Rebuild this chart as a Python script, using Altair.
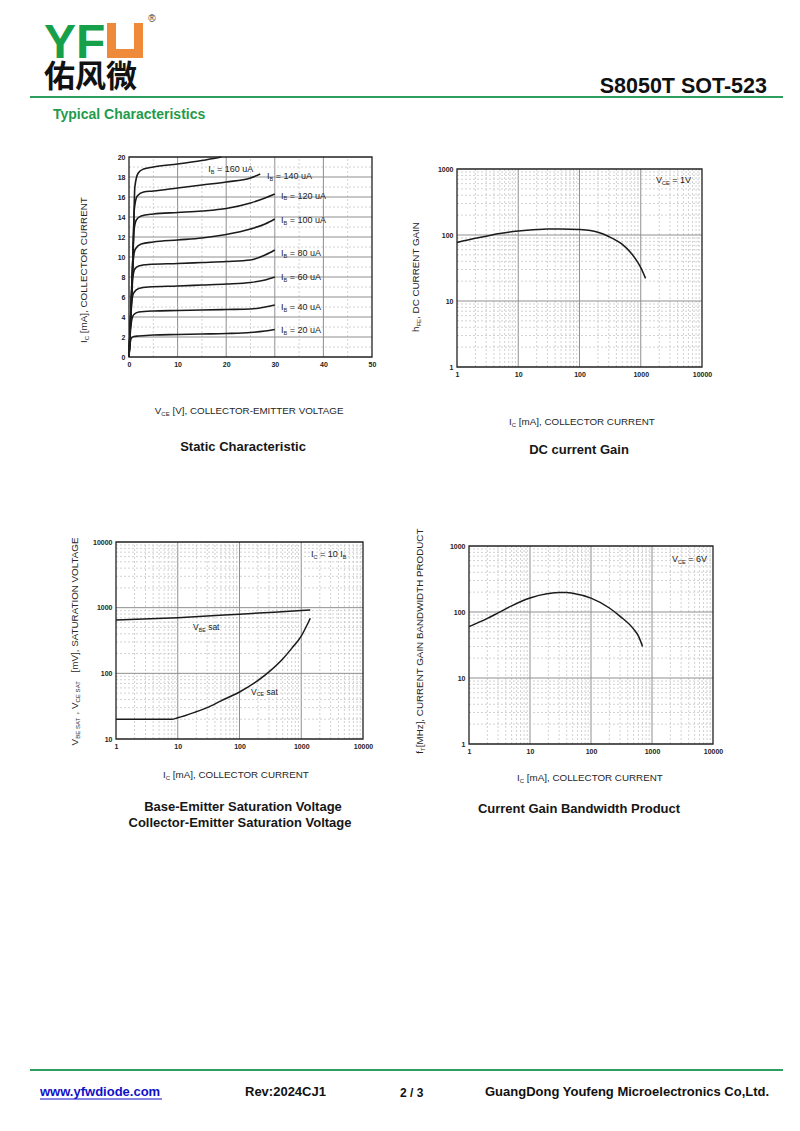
import altair as alt
import pandas as pd

FONT = "Liberation Sans"
CJK = "Noto Sans CJK SC"
INK = "#1b1b1b"
LOGO_GREEN = "#17a04a"
LINE_GREEN = "#2e9f5e"
TEXT_GREEN = "#1f9b4b"
ORANGE = "#ee8a3a"
LINK_BLUE = "#1010c8"
MAJOR = "#8f8f8f"
MINOR = "#c6c6c6"

W, H, M = 784, 1100, 8

# ---------------- Static characteristic: I_C [mA] vs V_CE [V] ----------------
IB_UA = [20, 40, 60, 80, 100, 120, 140, 160]
VCE_IB20 = [0, 0.2, 0.5, 1, 2, 5, 10, 15, 20, 25, 28, 30]
IC_IB20 = [0, 1.2, 1.9, 2.05, 2.1, 2.2, 2.25, 2.3, 2.35, 2.45, 2.6, 2.75]
VCE_IB40 = [0, 0.3, 0.6, 1, 2, 5, 10, 15, 20, 25, 28, 30]
IC_IB40 = [0, 2.6, 3.8, 4.25, 4.5, 4.6, 4.65, 4.7, 4.75, 4.8, 5.0, 5.2]
VCE_IB60 = [0, 0.4, 0.7, 1.1, 2, 4, 10, 15, 20, 25, 28, 30]
IC_IB60 = [0, 4.2, 6.0, 6.5, 6.85, 7.0, 7.1, 7.2, 7.3, 7.45, 7.7, 8.0]
VCE_IB80 = [0, 0.5, 0.8, 1.2, 2, 4, 10, 15, 20, 25, 28, 30]
IC_IB80 = [0, 5.5, 8.0, 8.8, 9.1, 9.25, 9.35, 9.45, 9.55, 9.7, 10.2, 10.7]
VCE_IB100 = [0, 0.6, 0.9, 1.3, 2.5, 5, 10, 15, 20, 25, 28, 30]
IC_IB100 = [0, 7.0, 9.8, 10.8, 11.3, 11.5, 11.7, 11.9, 12.25, 12.8, 13.3, 13.8]
VCE_IB120 = [0, 0.7, 1.0, 1.5, 2.5, 5, 10, 15, 20, 25, 28, 30]
IC_IB120 = [0, 8.5, 12.5, 13.7, 14.1, 14.3, 14.45, 14.6, 14.85, 15.4, 15.9, 16.3]
VCE_IB140 = [0, 0.8, 1.1, 1.7, 3, 5, 10, 15, 20, 25, 27]
IC_IB140 = [0, 10.0, 14.8, 16.1, 16.5, 16.6, 16.9, 17.2, 17.5, 17.9, 18.3]
VCE_IB160 = [0, 0.9, 1.2, 1.9, 3, 5, 10, 15, 19]
IC_IB160 = [0, 11.5, 17.0, 18.4, 18.8, 19.0, 19.3, 19.65, 20.0]
STATIC_VCE = [VCE_IB20, VCE_IB40, VCE_IB60, VCE_IB80, VCE_IB100, VCE_IB120, VCE_IB140, VCE_IB160]
STATIC_IC = [IC_IB20, IC_IB40, IC_IB60, IC_IB80, IC_IB100, IC_IB120, IC_IB140, IC_IB160]
IB_LABEL_X = [31.3, 31.3, 31.3, 31.3, 31.3, 31.3, 28.4, 16.3]
IB_LABEL_Y = [2.7, 5.0, 7.96, 10.4, 13.7, 16.15, 18.06, 18.8]

STATIC_X_TICKS = [0, 10, 20, 30, 40, 50]
STATIC_Y_TICKS = [0, 2, 4, 6, 8, 10, 12, 14, 16, 18, 20]
STATIC_GX_MAJOR = [10, 20, 30, 40]
STATIC_GX_MINOR = [5, 15, 25, 35, 45]
STATIC_GY_MAJOR = [2, 4, 6, 8, 10, 12, 14, 16, 18]
STATIC_GY_MINOR = [1, 3, 5, 7, 9, 11, 13, 15, 17, 19]

# ---------------- DC current gain: hFE vs I_C [mA] (V_CE = 1V) ----------------
IC_HFE = [1, 2, 3, 5, 10, 20, 30, 50, 100, 150, 200, 300, 500, 700, 900, 1000, 1200]
HFE = [77, 89, 96, 105, 115, 121, 123, 123, 121, 117, 110, 95, 72, 53, 38, 32, 22]

# ---------------- Saturation voltages [mV] vs I_C [mA] (I_C = 10 I_B) ----------------
IC_VBE = [1, 10, 100, 1000, 1400]
VBE_SAT = [650, 705, 795, 905, 922]
IC_VCE = [1, 8, 10, 20, 30, 50, 100, 200, 300, 500, 700, 1000, 1400]
VCE_SAT = [20, 20, 21, 26, 30, 38, 52, 78, 105, 165, 240, 370, 690]

# ---------------- Current gain bandwidth product f_T [MHz] vs I_C (V_CE = 6V) ----------------
IC_FT = [1, 2, 3, 5, 10, 20, 30, 40, 50, 100, 200, 300, 500, 600, 700]
FT = [60, 80, 97, 124, 163, 190, 198, 198, 193, 162, 115, 86, 55, 43, 30]

# ---------------- log grids / ticks ----------------
TICKS_1_10000 = [1, 10, 100, 1000, 10000]
TICKS_1_1000 = [1, 10, 100, 1000]
TICKS_10_10000 = [10, 100, 1000, 10000]
MAJOR_1_10000 = [10, 100, 1000]
MAJOR_1_1000 = [10, 100]
MAJOR_10_10000 = [100, 1000]
MINOR_1_10000 = [2, 3, 4, 5, 6, 7, 8, 9, 20, 30, 40, 50, 60, 70, 80, 90,
                 200, 300, 400, 500, 600, 700, 800, 900, 2000, 3000, 4000, 5000, 6000, 7000, 8000, 9000]
MINOR_1_1000 = [2, 3, 4, 5, 6, 7, 8, 9, 20, 30, 40, 50, 60, 70, 80, 90,
                200, 300, 400, 500, 600, 700, 800, 900]
MINOR_10_10000 = [20, 30, 40, 50, 60, 70, 80, 90, 200, 300, 400, 500, 600, 700, 800, 900,
                  2000, 3000, 4000, 5000, 6000, 7000, 8000, 9000]

# ---------------- text metrics helper (Arial / Liberation Sans regular) ----------------
REG = {' ': 278, ',': 278, '.': 278, '-': 333, '=': 584, '[': 278, ']': 278}
for _d in "0123456789":
    REG[_d] = 556
REG.update({'A': 667, 'B': 667, 'C': 722, 'D': 722, 'E': 667, 'F': 611, 'G': 778, 'H': 722,
            'I': 278, 'J': 500, 'K': 667, 'L': 556, 'M': 833, 'N': 722, 'O': 778, 'P': 667,
            'Q': 778, 'R': 722, 'S': 667, 'T': 611, 'U': 722, 'V': 667, 'W': 944, 'X': 667,
            'Y': 667, 'Z': 611, 'a': 556, 'b': 556, 'c': 500, 'd': 556, 'e': 556, 'f': 278,
            'g': 556, 'h': 556, 'i': 222, 'j': 222, 'k': 500, 'l': 222, 'm': 833, 'n': 556,
            'o': 556, 'p': 556, 'q': 556, 'r': 333, 's': 500, 't': 278, 'u': 556, 'v': 500,
            'w': 722, 'x': 500, 'y': 500, 'z': 500})
SUB = 0.62


def tw(s, size):
    return sum(REG.get(ch, 556) for ch in s) / 1000.0 * size


def pieces_of(segs, size):
    out, cur = [], 0.0
    for text, sub in segs:
        fs = size * SUB if sub else size
        lead = len(text) - len(text.lstrip(' '))
        out.append((text.strip(), fs, cur + tw(' ' * lead, fs), size * 0.33 if sub else 0.0))
        cur += tw(text, fs)
    return out, cur


ONE = alt.Data(values=[{"a": 0}])


def page_text(text, x, y, size, weight="normal", color=INK, align="left", font=FONT,
              baseline="middle", angle=0, dx=0.0, dy=0.0):
    return alt.Chart(ONE).mark_text(
        text=text, align=align, baseline=baseline, font=font, fontSize=size,
        fontWeight=weight, color=color, angle=angle, dx=dx, dy=dy
    ).encode(x=alt.value(x - M), y=alt.value(y - M))


def page_segments(segs, cx, cy, size, angle=0, color="#262626"):
    pcs, total = pieces_of(segs, size)
    return [page_text(t, cx, cy, fs, angle=angle, dx=off - total / 2, dy=sdy, color=color)
            for t, fs, off, sdy in pcs if t]


def page_rule(x0, x1, y, color, width):
    return alt.Chart(ONE).mark_rule(color=color, strokeWidth=width).encode(
        x=alt.value(x0 - M), x2=alt.value(x1 - M), y=alt.value(y - M))


def page_rect(x0, x1, y0, y1, color):
    return alt.Chart(ONE).mark_rect(color=color).encode(
        x=alt.value(x0 - M), x2=alt.value(x1 - M), y=alt.value(y0 - M), y2=alt.value(y1 - M))


# ---------------- panels ----------------
def make_axis(orient, offset, values):
    return alt.Axis(orient=orient, offset=offset, values=values, format="d", title=None,
                    grid=False, ticks=False, domain=False, labelFont=FONT, labelFontSize=7,
                    labelFontWeight="bold", labelColor="#222", labelFlush=False,
                    labelOverlap=False, labelPadding=4 if orient == "left" else 3)


def make_panel(xtype, ytype, xdom, ydom, px0, px1, ptop, pbot, xticks, yticks,
               gxmaj, gxmin, gymaj, gymin):
    xs = dict(type=xtype, domain=xdom, range=[px0 - M, px1 - M], nice=False)
    ys = dict(type=ytype, domain=ydom, range=[pbot - M, ptop - M], nice=False)
    if xtype == "linear":
        xs["zero"] = False
    if ytype == "linear":
        ys["zero"] = False
    return dict(xdom=xdom, ydom=ydom,
                xscale=alt.Scale(**xs), yscale=alt.Scale(**ys),
                xaxis=make_axis("bottom", (pbot - M) - H, xticks),
                yaxis=make_axis("left", -(px0 - M), yticks),
                gxmaj=gxmaj, gxmin=gxmin, gymaj=gymaj, gymin=gymin)


def X(p, f):
    return alt.X(f"{f}:Q", scale=p["xscale"], axis=p["xaxis"])


def Y(p, f):
    return alt.Y(f"{f}:Q", scale=p["yscale"], axis=p["yaxis"])


def panel_layers(p, curves, labels, lw=1.5):
    xd, yd = p["xdom"], p["ydom"]
    L = []
    for vals, col, wd, dash in [(p["gxmin"], MINOR, 0.8, [2, 2]), (p["gxmaj"], MAJOR, 1.0, None)]:
        df = pd.DataFrame({"v": vals, "a": yd[0], "b": yd[1]})
        mk = dict(color=col, strokeWidth=wd)
        if dash:
            mk["strokeDash"] = dash
        L.append(alt.Chart(df).mark_rule(**mk).encode(x=X(p, "v"), y=Y(p, "a"), y2="b"))
    for vals, col, wd, dash in [(p["gymin"], MINOR, 0.8, [2, 2]), (p["gymaj"], MAJOR, 1.0, None)]:
        df = pd.DataFrame({"v": vals, "a": xd[0], "b": xd[1]})
        mk = dict(color=col, strokeWidth=wd)
        if dash:
            mk["strokeDash"] = dash
        L.append(alt.Chart(df).mark_rule(**mk).encode(y=Y(p, "v"), x=X(p, "a"), x2="b"))
    L.append(alt.Chart(curves).mark_line(color=INK, strokeWidth=lw, interpolate="monotone").encode(
        x=X(p, "x"), y=Y(p, "y"), detail="k:N"))
    frame = pd.DataFrame({"x0": [xd[0]], "x1": [xd[1]], "y0": [yd[0]], "y1": [yd[1]]})
    L.append(alt.Chart(frame).mark_rect(filled=False, color="#222", strokeWidth=1.3).encode(
        x=X(p, "x0"), x2="x1", y=Y(p, "y0"), y2="y1"))
    for ax, ay, segs, size in labels:
        df = pd.DataFrame({"x": [ax], "y": [ay]})
        pcs, _ = pieces_of(segs, size)
        for t, fs, off, sdy in pcs:
            if not t:
                continue
            L.append(alt.Chart(df).mark_text(text=t, align="left", baseline="middle", font=FONT,
                                             fontSize=fs, dx=off, dy=sdy, color="#222").encode(
                x=X(p, "x"), y=Y(p, "y")))
    return alt.layer(*L)


def long_df(xs_list, ys_list, keys):
    rows = []
    for k, xs, ys in zip(keys, xs_list, ys_list):
        for a, b in zip(xs, ys):
            rows.append({"k": k, "x": a, "y": b})
    return pd.DataFrame(rows)


P1 = make_panel("linear", "linear", [0, 50], [0, 20], 129, 372, 157, 357,
                STATIC_X_TICKS, STATIC_Y_TICKS, STATIC_GX_MAJOR, STATIC_GX_MINOR,
                STATIC_GY_MAJOR, STATIC_GY_MINOR)
P2 = make_panel("log", "log", [1, 10000], [1, 1000], 457, 702, 169, 367,
                TICKS_1_10000, TICKS_1_1000, MAJOR_1_10000, MINOR_1_10000,
                MAJOR_1_1000, MINOR_1_1000)
P3 = make_panel("log", "log", [1, 10000], [10, 10000], 116, 363, 542, 739,
                TICKS_1_10000, TICKS_10_10000, MAJOR_1_10000, MINOR_1_10000,
                MAJOR_10_10000, MINOR_10_10000)
P4 = make_panel("log", "log", [1, 10000], [1, 1000], 469, 713, 546, 744,
                TICKS_1_10000, TICKS_1_1000, MAJOR_1_10000, MINOR_1_10000,
                MAJOR_1_1000, MINOR_1_1000)

static_labels = [(lx, ly, [("I", 0), ("B", 1), (f" = {ib} uA", 0)], 9)
                 for ib, lx, ly in zip(IB_UA, IB_LABEL_X, IB_LABEL_Y)]
panel1 = panel_layers(P1, long_df(STATIC_VCE, STATIC_IC, IB_UA), static_labels, lw=1.6)
panel2 = panel_layers(P2, long_df([IC_HFE], [HFE], ["hfe"]),
                      [(1775, 681, [("V", 0), ("CE", 1), (" = 1V", 0)], 9)])
panel3 = panel_layers(P3, long_df([IC_VBE, IC_VCE], [VBE_SAT, VCE_SAT], ["vbe", "vce"]),
                      [(1438, 6560, [("I", 0), ("C", 1), (" = 10 I", 0), ("B", 1)], 9),
                       (17.7, 505, [("V", 0), ("BE", 1), (" sat", 0)], 8.5),
                       (154, 52.8, [("V", 0), ("CE", 1), (" sat", 0)], 8.5)])
panel4 = panel_layers(P4, long_df([IC_FT], [FT], ["ft"]),
                      [(2130, 636, [("V", 0), ("CE", 1), (" = 6V", 0)], 9)])

# ---------------- page decorations ----------------
deco = []
# logo
deco.append(page_text("YF", 44, 58, 48, weight="bold", color=LOGO_GREEN, baseline="alphabetic"))
deco.append(page_rect(107, 143, 23, 58, ORANGE))
deco.append(page_rect(116, 134, 23, 49, "white"))
deco.append(page_text("®", 152, 19, 10, color="#333", align="center"))
deco.append(page_text("佑风微", 44, 78, 31, weight="bold", color="#111", font=CJK))
deco.append(page_text("S8050T SOT-523", 767, 93, 21.5, weight="bold", color="#111",
                      align="right", baseline="alphabetic"))
deco.append(page_rule(30, 783, 97, LINE_GREEN, 2))
deco.append(page_text("Typical Characteristics", 53, 115, 14, weight="bold", color=TEXT_GREEN))

# axis titles
IC_TITLE = [("I", 0), ("C", 1), (" [mA], COLLECTOR CURRENT", 0)]
deco += page_segments([("V", 0), ("CE", 1), (" [V], COLLECTOR-EMITTER VOLTAGE", 0)], 250, 411, 9.8)
deco += page_segments(IC_TITLE, 84, 270, 9.8, angle=270)
deco += page_segments(IC_TITLE, 582, 422, 9.8)
deco += page_segments([("h", 0), ("FE", 1), (", DC CURRENT GAIN", 0)], 416, 277, 9.8, angle=270)
deco += page_segments(IC_TITLE, 236, 775, 9.8)
deco += page_segments([("V", 0), ("BE SAT", 1), (" , ", 0), ("V", 0), ("CE SAT", 1),
                       ("   [mV], SATURATION VOLTAGE", 0)], 75, 640, 9.8, angle=270)
deco += page_segments(IC_TITLE, 590, 778, 9.8)
deco += page_segments([("f", 0), ("T", 1), ("[MHz], CURRENT GAIN BANDWIDTH PRODUCT", 0)],
                      420, 641, 9.8, angle=270)

# panel captions
for txt, cx, cy in [("Static Characteristic", 243, 447), ("DC current Gain", 579, 450),
                    ("Base-Emitter Saturation Voltage", 243, 807),
                    ("Collector-Emitter Saturation Voltage", 240, 823),
                    ("Current Gain Bandwidth Product", 579, 809)]:
    deco.append(page_text(txt, cx, cy, 13, weight="bold", color="#161616", align="center"))

# footer
deco.append(page_rule(30, 783, 1070, LINE_GREEN, 2))
deco.append(page_text("www.yfwdiode.com", 40, 1092, 13, weight="bold", color=LINK_BLUE))
deco.append(page_rule(40, 162, 1099, LINK_BLUE, 1))
deco.append(page_text("Rev:2024CJ1", 245, 1092, 13, weight="bold", color="#111"))
deco.append(page_text("2 / 3", 400, 1093, 12, weight="bold", color="#111"))
deco.append(page_text("GuangDong Youfeng Microelectronics Co,Ltd.", 485, 1092, 13,
                      weight="bold", color="#111"))

chart = alt.layer(panel1, panel2, panel3, panel4, *deco).resolve_scale(
    x="independent", y="independent"
).properties(
    width=W, height=H, autosize=alt.AutoSizeParams(type="none"), padding=0, background="white"
).configure_view(stroke=None)

chart.save("out.html", embed_options={"renderer": "svg", "actions": False})
